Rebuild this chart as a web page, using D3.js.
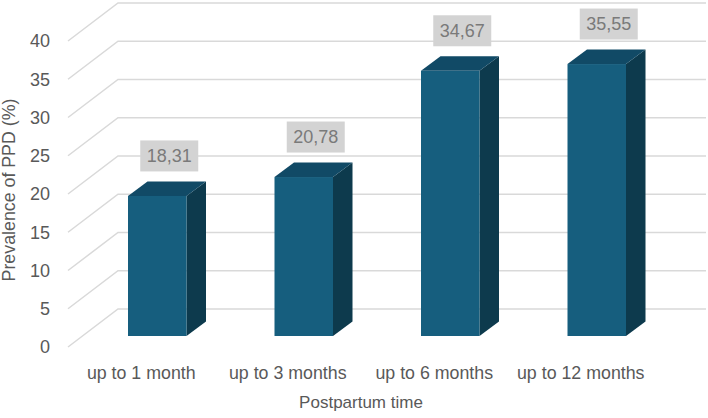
<!DOCTYPE html>
<html>
<head>
<meta charset="utf-8">
<script src="https://cdn.jsdelivr.net/npm/d3@7"></script>
<style>
  body { margin: 0; background: #fff; }
  text { font-family: "Liberation Sans", Arial, sans-serif; }
</style>
</head>
<body>
<svg id="chart" width="708" height="418"></svg>
<script>
// data
var categories = ["up to 1 month", "up to 3 months", "up to 6 months", "up to 12 months"];
var prevalence = [18.31, 20.78, 34.67, 35.55];
var labels = ["18,31", "20,78", "34,67", "35,55"];
var ticks = [0, 5, 10, 15, 20, 25, 30, 35, 40];

var svg = d3.select("#chart");

// front plane scales
var x = d3.scaleBand().domain(categories).range([68, 654]);
var y = d3.scaleLinear().domain([0, 40]).range([347, 41]);

// depth of the 3d box (wall) and of the bars
var wallDx = 50, wallDy = -38;
var barOffX = 16, barOffY = -11;   // where bar front face sits
var barDx = 19.5, barDy = -14.5;   // bar depth
var barW = 58.5;

// gridlines: diagonal on the floor/side then along back wall
var grid = svg.append("g");
ticks.forEach(function(t) {
    grid.append("path")
        .attr("d", "M68," + y(t) + "L" + (68 + wallDx) + "," + (y(t) + wallDy) + "L706," + (y(t) + wallDy))
        .attr("fill", "none")
        .attr("stroke", "#d9d9d9")
        .attr("stroke-width", 1.5);
});

// y tick labels
svg.append("g").selectAll("text")
    .data(ticks)
    .join("text")
    .attr("x", 50)
    .attr("y", d => y(d))
    .attr("dy", "0.35em")
    .attr("text-anchor", "end")
    .attr("font-size", 18)
    .attr("fill", "#595959")
    .text(d => d);

// bars
var bars = svg.append("g").selectAll("g.bar")
    .data(prevalence)
    .join("g")
    .attr("class", "bar");

function fx(i) { return x(categories[i]) + x.bandwidth() / 2 - barW / 2 + barOffX; }

bars.each(function(d, i) {
    var g = d3.select(this);
    var x0 = fx(i), x1 = x0 + barW;
    var yb = y(0) + barOffY, yt = y(d) + barOffY;
    // side
    g.append("path")
        .attr("d", "M" + x1 + "," + yt + "L" + (x1 + barDx) + "," + (yt + barDy) + "L" + (x1 + barDx) + "," + (yb + barDy) + "L" + x1 + "," + yb + "Z")
        .attr("fill", "#0d3a4d");
    // top
    g.append("path")
        .attr("d", "M" + x0 + "," + yt + "L" + (x0 + barDx) + "," + (yt + barDy) + "L" + (x1 + barDx) + "," + (yt + barDy) + "L" + x1 + "," + yt + "Z")
        .attr("fill", "#114a66");
    // front
    g.append("rect")
        .attr("x", x0)
        .attr("y", yt)
        .attr("width", barW)
        .attr("height", yb - yt)
        .attr("fill", "#165e7e");
});

// data labels
var lab = svg.append("g").selectAll("g")
    .data(prevalence)
    .join("g")
    .attr("transform", (d, i) => "translate(" + (fx(i) + barW / 2 + 12) + "," + Math.max(23, y(d) + barOffY - 40) + ")");
lab.append("rect")
    .attr("x", -29).attr("y", -15.5)
    .attr("width", 58).attr("height", 31)
    .attr("fill", "#d3d3d3");
lab.append("text")
    .attr("text-anchor", "middle")
    .attr("dy", "0.35em")
    .attr("font-size", 18)
    .attr("fill", "#7a7a7a")
    .text((d, i) => labels[i]);

// category labels
svg.append("g").selectAll("text")
    .data(categories)
    .join("text")
    .attr("x", d => x(d) + x.bandwidth() / 2)
    .attr("y", 373)
    .attr("dy", "0.35em")
    .attr("text-anchor", "middle")
    .attr("font-size", 17.8)
    .attr("fill", "#595959")
    .text(d => d);

// axis titles
svg.append("text")
    .attr("x", 361).attr("y", 402)
    .attr("dy", "0.35em")
    .attr("text-anchor", "middle")
    .attr("font-size", 17)
    .attr("fill", "#595959")
    .text("Postpartum time");

svg.append("text")
    .attr("transform", "translate(9,190) rotate(-90)")
    .attr("dy", "0.35em")
    .attr("text-anchor", "middle")
    .attr("font-size", 17.8)
    .attr("fill", "#595959")
    .text("Prevalence of PPD (%)");
</script>
</body>
</html>
